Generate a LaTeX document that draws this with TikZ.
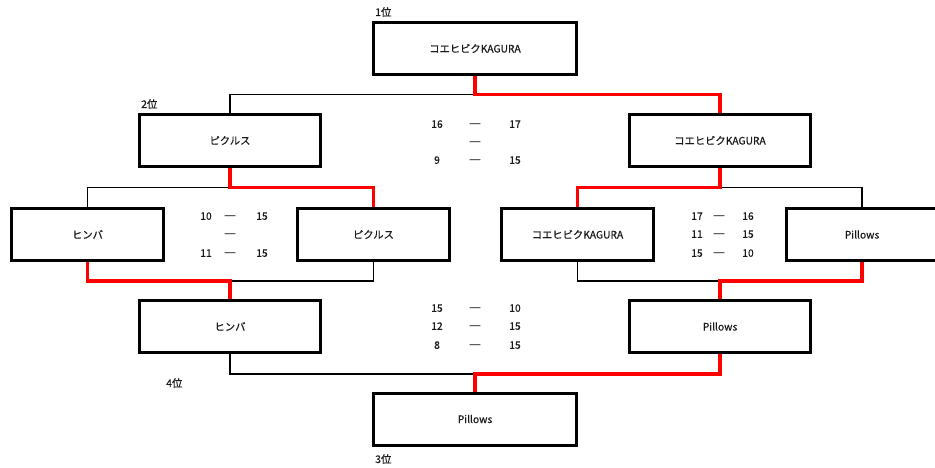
\documentclass[tikz,border=0pt]{standalone}
\usepackage{fontspec}
\setmainfont{Noto Sans CJK JP}[FakeBold=0.5]
\newfontfamily\dashfont{DejaVu Sans}
\usepackage{tikz}
\usetikzlibrary{calc}

\definecolor{txtgray}{RGB}{25,25,25}
\definecolor{winred}{RGB}{255,0,0}
\newcommand{\sdash}{{\dashfont\fontsize{12}{12}\selectfont —}}

\begin{document}
\begin{tikzpicture}[x=1pt,y=-1pt,
    team/.style={draw, line width=3pt, minimum height=52pt, text=txtgray, font=\fontsize{10.3}{12}\selectfont},
    big/.style={team, minimum width=203pt},
    mid/.style={team, minimum width=181pt},
    small/.style={team, minimum width=152pt},
    lose/.style={line width=1.6pt},
    win/.style={line width=3.2pt, winred},
    score/.style={text=txtgray, font=\fontsize{10.3}{11}\selectfont, inner sep=0pt, text height=7.6pt, text depth=0pt},
    rank/.style={text=txtgray, font=\fontsize{10.5}{12}\selectfont, inner sep=0pt, anchor=west}]
    \useasboundingbox (0,0) rectangle (935,468);
    % boxes
    \node[big] (top) at (475,48.5) {コエヒビクKAGURA};
    \node[mid] (l2) at (230,140.5) {ピクルス};
    \node[mid] (r2) at (720,140.5) {コエヒビクKAGURA};
    \node[small] (l3a) at (87.5,234.5) {ヒンバ};
    \node[small] (l3b) at (373.5,234.5) {ピクルス};
    \node[small] (r3a) at (577.5,234.5) {コエヒビクKAGURA};
    \node[small] (r3b) at (862,234.5) {Pillows};
    \node[mid] (l4) at (230,326.5) {ヒンバ};
    \node[mid] (r4) at (720,326.5) {Pillows};
    \node[big] (bot) at (475,419) {Pillows};
    % ranks
    \node[rank] (first) at (375,12) {1位};
    \node[rank] (second) at (141,104) {2位};
    \node[rank] (fourth) at (166,383) {4位};
    \node[rank] (third) at (375,459) {3位};
    % junctions
    \coordinate (j1) at (475,94.5);
    \coordinate (j2) at (230,187.5);
    \coordinate (j3) at (720,187.5);
    \coordinate (j4) at (230,281);
    \coordinate (j5) at (720,281);
    \coordinate (j6) at (475,374);
    % losing lines
    \draw[lose] (l2.north) |- (j1);
    \draw[lose] (l3a.north) |- (j2);
    \draw[lose] (r3b.north) |- (j3);
    \draw[lose] (l3b.south) |- (j4);
    \draw[lose] (r3a.south) |- (j5);
    \draw[lose] (l4.south) |- (j6);
    % winning lines
    \draw[win] (top.south) -- (j1) -| (r2.north);
    \draw[win] (l2.south) -- (j2) -| (l3b.north);
    \draw[win] (r2.south) -- (j3) -| (r3a.north);
    \draw[win] (l3a.south) |- (j4) -- (l4.north);
    \draw[win] (r3b.south) |- (j5) -- (r4.north);
    \draw[win] (bot.north) -- (j6) -| (r4.south);
    % scores
    \node[score] (fa1) at (437,124) {16};
    \node[score] (fd1) at (475,124) {\sdash};
    \node[score] (fb1) at (515,124) {17};
    \node[score] (fd2) at (475,142) {\sdash};
    \node[score] (fa3) at (437,160) {9};
    \node[score] (fd3) at (475,160) {\sdash};
    \node[score] (fb3) at (515,160) {15};
    \node[score] (la1) at (206,216) {10};
    \node[score] (ld1) at (230,216) {\sdash};
    \node[score] (lb1) at (262,216) {15};
    \node[score] (ld2) at (230,234) {\sdash};
    \node[score] (la3) at (206,253) {11};
    \node[score] (ld3) at (230,253) {\sdash};
    \node[score] (lb3) at (262,253) {15};
    \node[score] (ra1) at (697,216) {17};
    \node[score] (rd1) at (719,216) {\sdash};
    \node[score] (rb1) at (748,216) {16};
    \node[score] (ra2) at (697,234) {11};
    \node[score] (rd2) at (719,234) {\sdash};
    \node[score] (rb2) at (748,234) {15};
    \node[score] (ra3) at (697,253) {15};
    \node[score] (rd3) at (719,253) {\sdash};
    \node[score] (rb3) at (748,253) {10};
    \node[score] (ta1) at (437,308) {15};
    \node[score] (td1) at (475,308) {\sdash};
    \node[score] (tb1) at (515,308) {10};
    \node[score] (ta2) at (437,326) {12};
    \node[score] (td2) at (475,326) {\sdash};
    \node[score] (tb2) at (515,326) {15};
    \node[score] (ta3) at (437,345) {8};
    \node[score] (td3) at (475,345) {\sdash};
    \node[score] (tb3) at (515,345) {15};
\end{tikzpicture}
\end{document}
